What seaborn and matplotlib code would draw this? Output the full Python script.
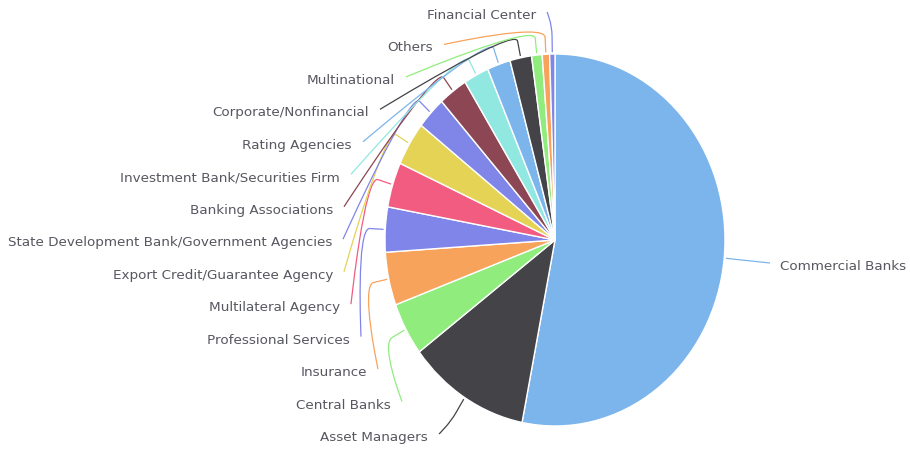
import matplotlib
matplotlib.use("Agg")
import matplotlib.pyplot as plt
from matplotlib.path import Path
from matplotlib.patches import PathPatch
import numpy as np
import seaborn as sns

# ---------------- data ----------------
categories = [
    "Commercial Banks", "Asset Managers", "Central Banks", "Insurance",
    "Professional Services", "Multilateral Agency",
    "Export Credit/Guarantee Agency",
    "State Development Bank/Government Agencies",
    "Banking Associations", "Investment Bank/Securities Firm",
    "Rating Agencies", "Corporate/Nonfinancial", "Multinational",
    "Others", "Financial Center",
]
shares = [53.0, 11.6, 4.6, 4.6, 3.9, 3.9, 3.8, 2.8, 2.75, 2.4, 2.2, 2.05, 1.0, 0.7, 0.5]

# Highcharts 4.0 default palette
base_colors = ["#7cb5ec", "#434348", "#90ed7d", "#f7a35c", "#8085e9",
               "#f15c80", "#e4d354", "#8085e8", "#8d4653", "#91e8e1"]

# ---------------- layout ----------------
W, H = 910, 449
CX, CY, RX, RY = 555, 240, 170, 186

# label anchors (pixel): x = text edge near the pie, y = baseline
label_x = [780, 428, 391, 367, 350, 340, 333, 332, 333, 340, 352, 369, 395, 433, 536]
label_y = [270] + [19 + 32.46 * (13 - i) for i in range(14)]
label_side = ["right"] + ["left"] * 14

sns.set_theme(style="white")
plt.rcParams["font.family"] = ["DejaVu Sans"]
palette = sns.color_palette(base_colors)
colors = [palette[i % len(palette)] for i in range(len(shares))]

fig = plt.figure(figsize=(W / 100, H / 100), dpi=100)
fig.patch.set_facecolor("white")

overlay = fig.add_axes([0, 0, 1, 1])
overlay.set_xlim(0, W)
overlay.set_ylim(H, 0)
overlay.axis("off")

pie_ax = fig.add_axes([(CX - RX) / W, 1 - (CY + RY) / H, 2 * RX / W, 2 * RY / H])
wedges, _ = pie_ax.pie(shares, colors=colors, startangle=90, counterclock=False,
                       radius=1.0, wedgeprops=dict(edgecolor="white", linewidth=1.0))
pie_ax.set_aspect("auto")
pie_ax.set_xlim(-1, 1)
pie_ax.set_ylim(-1, 1)
pie_ax.axis("off")

def to_px(ang_deg, k):
    a = np.deg2rad(ang_deg)
    return CX + RX * k * np.cos(a), CY - RY * k * np.sin(a)

kE = 1.01
kB = 1 + 17 / RY
text_color = "#575760"

for w, name, col, lx, ly, side in zip(wedges, categories, colors, label_x, label_y, label_side):
    mid = (w.theta1 + w.theta2) / 2
    ex, ey = to_px(mid, kE)
    bx, by = to_px(mid, kB)
    if side == "left":
        ax0 = lx + 11
    else:
        ax0 = lx - 10
    ay0 = ly - 7
    verts = [(ax0, ay0), (ax0, ay0), (2 * bx - ex, 2 * by - ey), (bx, by), (ex, ey)]
    codes = [Path.MOVETO, Path.CURVE4, Path.CURVE4, Path.CURVE4, Path.LINETO]
    overlay.add_patch(PathPatch(Path(verts, codes), facecolor="none",
                                edgecolor=col, lw=0.9, zorder=3))
    overlay.text(lx, ly, name, ha="right" if side == "left" else "left",
                 va="baseline", fontsize=9.7, color=text_color)

fig.savefig("out.png", dpi=100, facecolor="white")
